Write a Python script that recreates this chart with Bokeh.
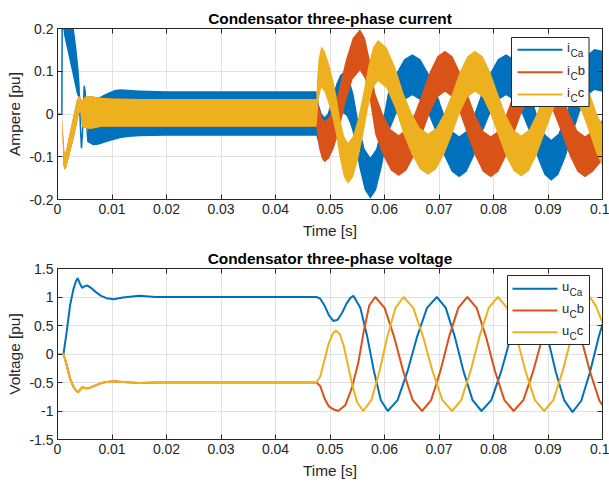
import numpy as np
from bokeh.plotting import figure
from bokeh.layouts import column
from bokeh.models import Range1d, FixedTicker, LinearAxis, BoxAnnotation, Label
from bokeh.embed import file_html
from bokeh.resources import INLINE

# ---------------- data ----------------
x_ticks = [0.0, 0.01, 0.02, 0.03, 0.04, 0.05, 0.06, 0.07, 0.08, 0.09, 0.1]
x_tick_labels = ["0", "0.01", "0.02", "0.03", "0.04", "0.05", "0.06", "0.07", "0.08", "0.09", "0.1"]
i_ticks = [-0.2, -0.1, 0.0, 0.1, 0.2]
i_tick_labels = ["-0.2", "-0.1", "0", "0.1", "0.2"]
u_ticks = [-1.5, -1.0, -0.5, 0.0, 0.5, 1.0, 1.5]
u_tick_labels = ["-1.5", "-1", "-0.5", "0", "0.5", "1", "1.5"]

# --- current, phase a: start-up spike, early band, thin oscillation, ripple band
ia_spike_t = [0.0, 0.0008, 0.00088]
ia_spike_v = [0.0, 0.0, 0.30]
ia_early_t = [0.00095, 0.0012, 0.0018, 0.0024, 0.0030, 0.0035, 0.0039, 0.0041]
ia_early_lo = [0.21, 0.185, 0.15, 0.115, 0.08, 0.05, 0.035, 0.04]
ia_early_hi = [0.40, 0.40, 0.34, 0.27, 0.20, 0.15, 0.10, 0.06]
ia_osc_t = [0.0040, 0.0042, 0.0044, 0.0046, 0.0049, 0.0051, 0.0053, 0.0056]
ia_osc_v = [0.05, -0.03, -0.08, -0.04, 0.066, 0.05, -0.02, -0.066]
ia_band_t = [0.0056, 0.0065, 0.0075, 0.0085, 0.0095, 0.0105, 0.0115, 0.013, 0.015, 0.02, 0.0475]
ia_band_lo = [-0.066, -0.073, -0.072, -0.068, -0.064, -0.06, -0.057, -0.054, -0.052, -0.051, -0.051]
ia_band_hi = [0.0, 0.03, 0.038, 0.045, 0.051, 0.056, 0.058, 0.057, 0.055, 0.053, 0.053]
# after switching at ~0.0475 s: slow component (centre of the ripple band)
ia_post_t = [0.0480, 0.0485, 0.0490, 0.04953, 0.05007, 0.0506,
             0.05123, 0.05187, 0.0525, 0.0531, 0.0537, 0.0543,
             0.05533, 0.05637, 0.0574, 0.05847, 0.05953, 0.0606,
             0.0621, 0.0636, 0.0651, 0.0666, 0.0681, 0.0696,
             0.07097, 0.07233, 0.0737, 0.07507, 0.07643, 0.0778,
             0.0793, 0.0808, 0.0823, 0.0838, 0.0853, 0.0868,
             0.08807, 0.08933, 0.0906, 0.0919, 0.0932, 0.0945,
             0.09583, 0.09717, 0.0985, 0.1000]
ia_post_mid = [-0.0275, -0.048, -0.055, -0.048, -0.0275, 0.0,
               0.025, 0.043, 0.05, 0.043, 0.025, 0.0,
               -0.075, -0.13, -0.15, -0.13, -0.075, 0.0,
               0.046, 0.08, 0.092, 0.08, 0.046, 0.0,
               -0.05, -0.087, -0.10, -0.087, -0.05, 0.0,
               0.046, 0.08, 0.092, 0.08, 0.046, 0.0,
               -0.054, -0.094, -0.108, -0.094, -0.054, 0.0,
               0.052, 0.09, 0.104, 0.10]

# --- current, phases b and c (identical before switching)
ibc_lead_t = [0.0, 0.0008]
ibc_lead_v = [0.0, 0.0]
ibc_pre_t = [0.0008, 0.0011, 0.0013, 0.0016, 0.0020, 0.0025, 0.0030, 0.0035, 0.0039,
             0.0042, 0.0045, 0.0050, 0.0060, 0.0070, 0.0080, 0.0100, 0.0150, 0.0475]
ibc_pre_lo = [0.0, -0.12, -0.13, -0.125, -0.105, -0.08, -0.055, -0.025, 0.0,
              0.005, -0.03, -0.032, -0.035, -0.033, -0.03, -0.03, -0.03, -0.03]
ibc_pre_hi = [0.0, -0.06, -0.095, -0.085, -0.06, -0.03, 0.0, 0.03, 0.042,
              0.04, 0.03, 0.04, 0.042, 0.04, 0.038, 0.036, 0.035, 0.035]
ib_post_t = [0.0480, 0.0485, 0.0490, 0.04983, 0.05067, 0.0515,
             0.05283, 0.05417, 0.0555, 0.05643, 0.05737, 0.0583,
             0.05973, 0.06117, 0.0626, 0.06403, 0.06547, 0.0669,
             0.0683, 0.0697, 0.0711, 0.07247, 0.07383, 0.0752,
             0.07663, 0.07807, 0.0795, 0.0809, 0.0823, 0.0837,
             0.08513, 0.08657, 0.0880, 0.08953, 0.09107, 0.0926,
             0.0940, 0.0954, 0.0968, 0.09823, 0.1000]
ib_post_mid = [-0.0325, -0.056, -0.065, -0.056, -0.0325, 0.0,
               0.075, 0.13, 0.15, 0.13, 0.075, 0.0,
               -0.0485, -0.084, -0.097, -0.084, -0.0485, 0.0,
               0.05, 0.087, 0.10, 0.087, 0.05, 0.0,
               -0.05, -0.087, -0.10, -0.087, -0.05, 0.0,
               0.05, 0.087, 0.10, 0.087, 0.05, 0.0,
               -0.05, -0.087, -0.10, -0.087, -0.06]
ic_post_t = [0.0476, 0.0479, 0.0484, 0.0490, 0.0498, 0.0505, 0.0511,
             0.05183, 0.05257, 0.0533, 0.05423, 0.05517, 0.0561,
             0.0570, 0.0579, 0.0588, 0.06037, 0.06193, 0.0635,
             0.0650, 0.0665, 0.0680, 0.06947, 0.07093, 0.0724,
             0.0738, 0.0752, 0.0766, 0.0780, 0.0794, 0.0808,
             0.08223, 0.08367, 0.0851, 0.0865, 0.0879, 0.0893,
             0.0907, 0.0921, 0.0935, 0.0949, 0.0963, 0.0977,
             0.0989, 0.1000]
ic_post_mid = [0.03, 0.08, 0.11, 0.10, 0.07, 0.035, 0.0,
               -0.0575, -0.10, -0.115, -0.10, -0.0575, 0.0,
               0.0625, 0.108, 0.125, 0.108, 0.0625, 0.0,
               -0.047, -0.081, -0.094, -0.081, -0.047, 0.0,
               0.05, 0.087, 0.10, 0.087, 0.05, 0.0,
               -0.049, -0.085, -0.098, -0.085, -0.049, 0.0,
               0.05, 0.087, 0.10, 0.087, 0.05, 0.0,
               -0.045, -0.075]
i_ripple_post = 0.048   # half-width of the switching ripple after 0.0475 s

# --- voltages
ua_t = [0.0, 0.0011, 0.0017, 0.0023, 0.0029, 0.0034, 0.0037, 0.0041, 0.0045, 0.0050,
        0.0055, 0.0060, 0.0070, 0.0080, 0.0090, 0.0103, 0.0120, 0.0150, 0.0180,
        0.0475, 0.0482, 0.0490, 0.0498, 0.0506, 0.0514, 0.0522, 0.0530, 0.0537, 0.0543,
        0.05556, 0.05682, 0.05808, 0.05934, 0.0606,
        0.0624, 0.0642, 0.0660, 0.0678, 0.0696,
        0.07124, 0.07288, 0.07452, 0.07616, 0.0778,
        0.0796, 0.0814, 0.0832, 0.0850, 0.0868,
        0.08834, 0.08988, 0.09142, 0.09296, 0.0945,
        0.0961, 0.0977, 0.0993, 0.1000]
ua_v = [0.0, 0.0, 0.4, 0.85, 1.13, 1.28, 1.33, 1.24, 1.16, 1.19,
        1.2, 1.17, 1.09, 1.02, 0.98, 0.96, 0.99, 1.02, 1.0,
        1.0, 0.97, 0.85, 0.68, 0.58, 0.6, 0.72, 0.88, 0.98, 1.02,
        0.81, 0.31, -0.31, -0.81, -1.0,
        -0.81, -0.31, 0.31, 0.81, 1.0,
        0.81, 0.31, -0.31, -0.81, -1.0,
        -0.81, -0.31, 0.31, 0.81, 1.0,
        0.81, 0.31, -0.31, -0.81, -1.02,
        -0.82, -0.32, 0.3, 0.52]
ubc_pre_t = [0.0, 0.0011, 0.0017, 0.0023, 0.0029, 0.0034, 0.0038, 0.0042, 0.0046, 0.0051,
             0.0056, 0.0060, 0.0070, 0.0080, 0.0090, 0.0103, 0.0120, 0.0150, 0.0180, 0.0475]
ubc_pre_v = [0.0, 0.0, -0.2, -0.43, -0.57, -0.64, -0.67, -0.62, -0.58, -0.6,
             -0.6, -0.59, -0.55, -0.51, -0.49, -0.48, -0.49, -0.51, -0.5, -0.5]
ub_post_t = [0.0482, 0.0490, 0.0498, 0.0506, 0.0515, 0.0528, 0.0540, 0.0552, 0.0562, 0.0572, 0.0583,
             0.06002, 0.06174, 0.06346, 0.06518, 0.0669,
             0.06856, 0.07022, 0.07188, 0.07354, 0.0752,
             0.0769, 0.0786, 0.0803, 0.0820, 0.0837,
             0.08548, 0.08726, 0.08904, 0.09082, 0.0926,
             0.0943, 0.0960, 0.0977, 0.0994, 0.1000]
ub_post_v = [-0.56, -0.78, -0.92, -0.97, -1.0, -0.9, -0.6, -0.15, 0.4, 0.85, 1.0,
             0.81, 0.31, -0.31, -0.81, -1.0,
             -0.81, -0.31, 0.31, 0.81, 1.0,
             0.81, 0.31, -0.31, -0.81, -1.0,
             -0.81, -0.31, 0.31, 0.81, 1.0,
             0.81, 0.31, -0.31, -0.81, -0.9]
uc_post_t = [0.0482, 0.0490, 0.0498, 0.0506, 0.0511, 0.0518, 0.0525, 0.0533, 0.0541, 0.0550, 0.0561,
             0.05758, 0.05906, 0.06054, 0.06202, 0.0635,
             0.06528, 0.06706, 0.06884, 0.07062, 0.0724,
             0.07408, 0.07576, 0.07744, 0.07912, 0.0808,
             0.0825, 0.0842, 0.0859, 0.0876, 0.0893,
             0.09098, 0.09266, 0.09434, 0.09602, 0.0977,
             0.0988, 0.1000]
uc_post_v = [-0.4, -0.1, 0.2, 0.37, 0.41, 0.35, 0.15, -0.2, -0.55, -0.85, -1.0,
             -0.81, -0.31, 0.31, 0.81, 1.0,
             0.81, 0.31, -0.31, -0.81, -1.0,
             -0.81, -0.31, 0.31, 0.81, 1.0,
             0.81, 0.31, -0.31, -0.81, -1.0,
             -0.81, -0.31, 0.31, 0.81, 1.0,
             0.84, 0.55]

# ---------------- style ----------------
BLUE, ORANGE, YELLOW = "#0072BD", "#D95319", "#EDB120"
INK = "#262626"
GRID = "#e1e1e1"
FONT = "Liberation Sans"
W, H = 609, 242
FL, FR = 57, 7          # frame borders left / right (px)
FH = 171.0              # frame height (px)


def make_fig(title, ylabel, yr, yt, ytl, top, bottom):
    p = figure(width=W, height=H, x_range=Range1d(0, 0.1), y_range=Range1d(yr[0], yr[1]),
               output_backend="svg", toolbar_location=None, title=title,
               min_border_left=FL, min_border_right=FR, min_border_top=top,
               min_border_bottom=bottom)
    p.background_fill_color = "white"
    p.border_fill_color = "white"
    p.outline_line_color = INK
    p.outline_line_width = 1
    p.title.text_font = FONT
    p.title.text_font_size = "15.4px"
    p.title.text_font_style = "bold"
    p.title.text_color = "black"
    p.title.align = "center"
    p.title.standoff = 4

    xt = FixedTicker(ticks=x_ticks)
    ytk = FixedTicker(ticks=yt)
    p.xaxis.ticker = xt
    p.yaxis.ticker = ytk
    p.xgrid.ticker = xt
    p.ygrid.ticker = ytk
    p.xaxis.major_label_overrides = dict(zip(x_ticks, x_tick_labels))
    p.yaxis.major_label_overrides = dict(zip(yt, ytl))
    p.xaxis.axis_label = "Time [s]"
    p.yaxis.axis_label = ylabel
    for ax in (p.xaxis[0], p.yaxis[0]):
        ax.axis_line_color = INK
        ax.major_tick_line_color = INK
        ax.minor_tick_line_color = None
        ax.major_tick_in = 5
        ax.major_tick_out = 0
        ax.major_label_text_font = FONT
        ax.major_label_text_font_size = "14px"
        ax.major_label_text_color = INK
        ax.axis_label_text_font = FONT
        ax.axis_label_text_font_size = "15.4px"
        ax.axis_label_text_font_style = "normal"
        ax.axis_label_text_color = INK
    p.xaxis.major_label_standoff = 4
    p.xaxis.axis_label_standoff = 5
    p.yaxis.major_label_standoff = 4
    p.yaxis.axis_label_standoff = 3

    for g in (p.xgrid[0], p.ygrid[0]):
        g.grid_line_color = GRID
        g.grid_line_width = 1

    # tick marks on the top and right edges of the box (no labels there)
    for loc, tk in (("above", xt), ("right", ytk)):
        ax = LinearAxis(ticker=tk, major_label_text_font_size="0px", major_label_text_color=None,
                        major_label_standoff=0, major_tick_in=5, major_tick_out=0,
                        minor_tick_line_color=None, axis_line_color=INK,
                        major_tick_line_color=INK)
        p.add_layout(ax, loc)
    return p


def add_legend(p, xmap, ymap, box, rows, line_x, text_x, entries, main_w, sub_w):
    l, r, t, b = box
    p.add_layout(BoxAnnotation(left=xmap(l), right=xmap(r), top=ymap(t), bottom=ymap(b),
                               fill_color="white", fill_alpha=1.0, line_color=INK,
                               line_width=1, line_alpha=1.0))
    for (main, sub, tail, color), py in zip(entries, rows):
        p.add_layout(BoxAnnotation(left=xmap(line_x[0]), right=xmap(line_x[1]),
                                   top=ymap(py - 1.0), bottom=ymap(py + 1.0),
                                   fill_color=color, fill_alpha=1.0, line_color=None))
        p.add_layout(Label(x=xmap(text_x), y=ymap(py - 2), text=main, text_font=FONT,
                           text_font_size="13px", text_color=INK, text_baseline="middle"))
        p.add_layout(Label(x=xmap(text_x + main_w), y=ymap(py + 4), text=sub, text_font=FONT,
                           text_font_size="10px", text_color=INK, text_baseline="middle"))
        if tail:
            p.add_layout(Label(x=xmap(text_x + main_w + sub_w), y=ymap(py - 2), text=tail,
                               text_font=FONT, text_font_size="13px", text_color=INK,
                               text_baseline="middle"))


# ---------------- top: currents ----------------
p1 = make_fig("Condensator three-phase current", "Ampere [pu]", (-0.2, 0.2),
              i_ticks, i_tick_labels, 28, 43)

ia_mid = np.array(ia_post_mid)
ib_mid = np.array(ib_post_mid)
ic_mid = np.array(ic_post_mid)

# phase a
p1.line(ia_spike_t, ia_spike_v, line_color=BLUE, line_width=1.5)
p1.varea(x=ia_early_t, y1=ia_early_lo, y2=ia_early_hi, fill_color=BLUE)
p1.line(ia_osc_t, ia_osc_v, line_color=BLUE, line_width=1.5)
p1.varea(x=ia_band_t + ia_post_t,
         y1=list(ia_band_lo) + list(ia_mid - i_ripple_post),
         y2=list(ia_band_hi) + list(ia_mid + i_ripple_post), fill_color=BLUE)
# phase b
p1.line(ibc_lead_t, ibc_lead_v, line_color=ORANGE, line_width=1.5)
p1.varea(x=ibc_pre_t + ib_post_t,
         y1=list(ibc_pre_lo) + list(ib_mid - i_ripple_post),
         y2=list(ibc_pre_hi) + list(ib_mid + i_ripple_post), fill_color=ORANGE)
# phase c
p1.line(ibc_lead_t, ibc_lead_v, line_color=YELLOW, line_width=1.5)
p1.varea(x=ibc_pre_t + ic_post_t,
         y1=list(ibc_pre_lo) + list(ic_mid - i_ripple_post),
         y2=list(ibc_pre_hi) + list(ic_mid + i_ripple_post), fill_color=YELLOW)

top_x = lambda px: (px - FL) / (W - FL - FR) * 0.1
top_y = lambda py: 0.2 - (py - 28) / FH * 0.4
add_legend(p1, top_x, top_y, (511, 588.5, 37, 106), (49.3, 71.7, 94.0), (517, 562), 566.5,
           [("i", "Ca", "", BLUE), ("i", "C", "b", ORANGE), ("i", "C", "c", YELLOW)], 3.5, 7.2)

# ---------------- bottom: voltages ----------------
p2 = make_fig("Condensator three-phase voltage", "Voltage [pu]", (-1.5, 1.5),
              u_ticks, u_tick_labels, 26, 45)
p2.line(ua_t, ua_v, line_color=BLUE, line_width=2)
p2.line(ubc_pre_t + ub_post_t, ubc_pre_v + ub_post_v, line_color=ORANGE, line_width=2)
p2.line(ubc_pre_t + uc_post_t, ubc_pre_v + uc_post_v, line_color=YELLOW, line_width=2)

bot_y = lambda py: 1.5 - (py - 242 - 26) / FH * 3.0
add_legend(p2, top_x, bot_y, (507, 589, 275, 344), (288.3, 310.0, 331.7), (512, 557), 561.5,
           [("u", "Ca", "", BLUE), ("u", "C", "b", ORANGE), ("u", "C", "c", YELLOW)], 7.5, 7.2)

layout = column(p1, p2)
open("out.html", "w").write(file_html(layout, INLINE))
